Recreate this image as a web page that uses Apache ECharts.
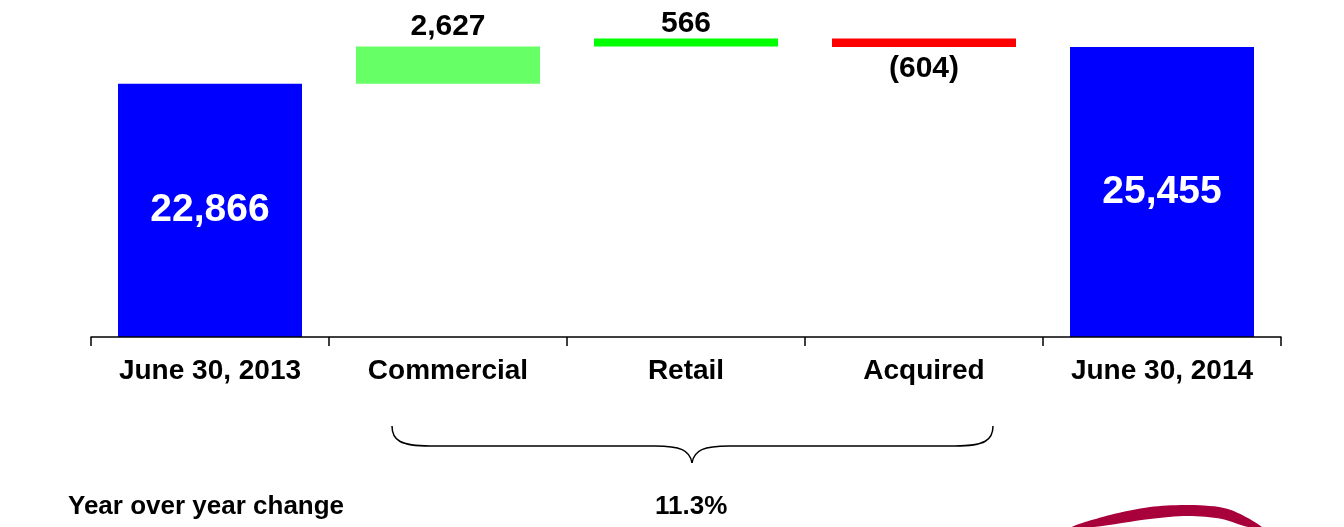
<!DOCTYPE html>
<html>
<head>
<meta charset="utf-8">
<script src="https://cdn.jsdelivr.net/npm/echarts@6/dist/echarts.min.js"></script>
<style>
html,body{margin:0;padding:0;background:#fff;}
#chart{width:1344px;height:527px;}
</style>
</head>
<body>
<div id="chart"></div>
<script>
const categories = ['June 30, 2013', 'Commercial', 'Retail', 'Acquired', 'June 30, 2014'];
const startValue = 22866;
const changes = [2627, 566, -604];
const endValue = 25455;
const yoyLabel = 'Year over year change';
const yoyValue = '11.3%';
const barColors = ['#0000FF', '#66FF66', '#00FF00', '#FF0000', '#0000FF'];

const FONT = '"Liberation Sans", Arial, sans-serif';

// build waterfall: invisible base + visible segment
const signed = [startValue].concat(changes, [endValue]);
const base = [0];
const heights = [startValue];
let running = startValue;
changes.forEach(c => {
  if (c >= 0) { base.push(running); heights.push(c); }
  else { base.push(running + c); heights.push(-c); }
  running += c;
});
base.push(0);
heights.push(endValue);

function fmt(v) {
  const s = Math.abs(v).toLocaleString('en-US');
  return v < 0 ? '(' + s + ')' : s;
}

const labelCfg = [
  { position: 'inside', color: '#fff', fontSize: 39 },
  { position: 'top', distance: 5, color: '#000', fontSize: 30 },
  { position: 'top', distance: 0, color: '#000', fontSize: 30 },
  { position: 'bottom', distance: 7, color: '#000', fontSize: 30 },
  { position: 'inside', color: '#fff', fontSize: 39 }
];

const valueData = heights.map((h, i) => ({
  value: h,
  itemStyle: { color: barColors[i] },
  label: Object.assign({ show: true, fontWeight: 'bold', fontFamily: FONT,
    formatter: () => fmt(signed[i]) }, labelCfg[i])
}));

const braceStyle = { stroke: '#000', lineWidth: 1.5, fill: 'none' };

const chart = echarts.init(document.getElementById('chart'), null, { renderer: 'canvas' });
chart.setOption({
  animation: false,
  backgroundColor: '#fff',
  grid: { left: 91, right: 63, top: 11, bottom: 190, containLabel: false },
  xAxis: {
    type: 'category',
    data: categories,
    z: 5,
    axisLine: { lineStyle: { color: '#000', width: 1.5 } },
    axisTick: { show: true, length: 9, lineStyle: { color: '#000', width: 1.5 } },
    axisLabel: { color: '#000', fontSize: 28, fontWeight: 'bold', fontFamily: FONT, margin: 20, interval: 0 },
    splitLine: { show: false }
  },
  yAxis: {
    type: 'value', min: 5000, max: 28000, show: false,
    splitLine: { show: false }
  },
  series: [
    {
      type: 'bar', stack: 'w', data: base, barWidth: 184,
      itemStyle: { color: 'transparent' }, silent: true, clip: true
    },
    {
      type: 'bar', stack: 'w', data: valueData, barWidth: 184, clip: true
    }
  ],
  graphic: [
    { type: 'bezierCurve', shape: { x1: 392, y1: 426, cpx1: 392, cpy1: 440, cpx2: 400, cpy2: 446, x2: 430, y2: 446 }, style: braceStyle },
    { type: 'line', shape: { x1: 430, y1: 446, x2: 655, y2: 446 }, style: braceStyle },
    { type: 'bezierCurve', shape: { x1: 655, y1: 446, cpx1: 680, cpy1: 446, cpx2: 690, cpy2: 450, x2: 692, y2: 463 }, style: braceStyle },
    { type: 'bezierCurve', shape: { x1: 692, y1: 463, cpx1: 694, cpy1: 450, cpx2: 704, cpy2: 446, x2: 729, y2: 446 }, style: braceStyle },
    { type: 'line', shape: { x1: 729, y1: 446, x2: 955, y2: 446 }, style: braceStyle },
    { type: 'bezierCurve', shape: { x1: 955, y1: 446, cpx1: 985, cpy1: 446, cpx2: 993, cpy2: 440, x2: 993, y2: 426 }, style: braceStyle },
    {
      type: 'text', left: 68, top: 494,
      style: { text: yoyLabel, font: 'bold 26px ' + FONT, fill: '#000' }
    },
    {
      type: 'text', left: 655, top: 494,
      style: { text: yoyValue, font: 'bold 26px ' + FONT, fill: '#000' }
    },
    {
      type: 'polygon',
      shape: {
        smooth: 0.3,
        points: [[1072, 527], [1110, 515], [1150, 507], [1190, 505], [1228, 509], [1262, 527],
                 [1248, 527], [1222, 519], [1188, 516], [1150, 519], [1094, 527]]
      },
      style: { fill: '#A8003A' }
    }
  ]
});
</script>
</body>
</html>
